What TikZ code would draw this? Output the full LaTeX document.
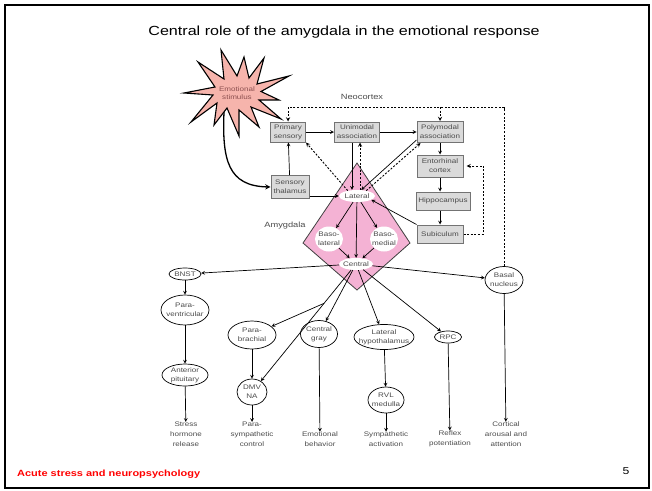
\documentclass[tikz,border=0pt]{standalone}
\usepackage{fontspec}
\setmainfont{Liberation Sans}[FakeStretch=1.22]
\usetikzlibrary{shapes.geometric}

\definecolor{amypink}{RGB}{244,178,212}
\definecolor{burstpink}{RGB}{246,180,172}
\definecolor{boxgray}{RGB}{218,218,218}
\definecolor{labelgray}{RGB}{75,75,75}
\definecolor{bursttext}{RGB}{140,80,80}

\begin{document}
\begin{tikzpicture}[
        x=1pt, y=-1pt,                % picture units follow the slide pixels
        >=stealth,
        every node/.style={
            font=\fontsize{6.6}{8.8}\selectfont,
            text=labelgray,
            align=center,
            inner sep=0pt
        },
        ctxbox/.style={rectangle, draw=gray!90!black, line width=1pt, fill=boxgray},
        outcell/.style={ellipse, draw=black, line width=0.7pt, fill=white, inner xsep=-5pt, inner ysep=-1pt},
        nucleus/.style={ellipse, fill=white, inner xsep=-5pt, inner ysep=-1pt},
        effect/.style={anchor=south, font=\fontsize{6.6}{10}\selectfont},
        caption/.style={font=\fontsize{7.6}{9}\selectfont},
        arrow/.style={->, line width=0.7pt},
        dotarrow/.style={->, line width=0.9pt, dash pattern=on 2pt off 1.6pt}
    ]
        \useasboundingbox (0,0) rectangle (652,490);
        \draw[line width=2pt] (5,5) rectangle (649,488);

        % titel und fusszeile
        \node (title) [font=\fontsize{13.2}{15}\selectfont, text=black] at (344,32)
            {Central role of the amygdala in the emotional response};
        \node (footer) [anchor=west, font=\fontsize{9}{11}\selectfont\bfseries, text=red] at (17,474)
            {Acute stress and neuropsychology};
        \node (pagenum) [font=\fontsize{10}{12}\selectfont, text=black] at (626,471) {5};

        % neokortex
        \node (neocortex) [caption] at (362,97) {Neocortex};
        \node (prim)  [ctxbox, minimum width=35pt, minimum height=20pt] at (288,132) {Primary\\sensory};
        \node (unim)  [ctxbox, minimum width=45pt, minimum height=20pt] at (357,132) {Unimodal\\association};
        \node (poly)  [ctxbox, minimum width=46pt, minimum height=21pt] at (440,132) {Polymodal\\association};
        \node (ento)  [ctxbox, minimum width=46pt, minimum height=22pt] at (440,166) {Entorhinal\\cortex};
        \node (hippo) [ctxbox, minimum width=54pt, minimum height=18pt] at (443,201) {Hippocampus};
        \node (subic) [ctxbox, minimum width=46pt, minimum height=18pt] at (440,234) {Subiculum};
        \node (sthal) [ctxbox, minimum width=38pt, minimum height=23pt] at (290,187) {Sensory\\thalamus};

        % amygdala
        \draw[fill=amypink, draw=black!75, line width=0.8pt]
            (357,163) -- (410,243) -- (357,290) -- (303,243) -- cycle;
        \node (amygdala) [caption] at (285,226) {Amygdala};
        \node (lat)     [nucleus, minimum width=36pt, minimum height=12pt] at (357,196) {Lateral};
        \node (bl)      [nucleus, minimum width=28pt, minimum height=25pt] at (329,239) {Baso-\\lateral};
        \node (bm)      [nucleus, minimum width=28pt, minimum height=25pt] at (384,239) {Baso-\\medial};
        \node (central) [nucleus, minimum width=34pt, minimum height=12pt] at (356,264) {Central};

        % ausgaenge
        \node (bnst)   [outcell, minimum width=32pt, minimum height=12pt] at (185,274) {BNST};
        \node (pvn)    [outcell, minimum width=48pt, minimum height=30pt] at (185,310) {Para-\\ventricular};
        \node (apit)   [outcell, minimum width=46pt, minimum height=22pt] at (185,375) {Anterior\\pituitary};
        \node (pbrach) [outcell, minimum width=48pt, minimum height=28pt] at (252,335) {Para-\\brachial};
        \node (dmv)    [outcell, minimum width=30pt, minimum height=26pt] at (252,392) {DMV\\NA};
        \node (cgray)  [outcell, minimum width=37pt, minimum height=27pt] at (319,334) {Central\\gray};
        \node (lhyp)   [outcell, minimum width=60pt, minimum height=25pt] at (384,337) {Lateral\\hypothalamus};
        \node (rvl)    [outcell, minimum width=36pt, minimum height=26pt] at (386,400) {RVL\\medulla};
        \node (rpc)    [outcell, minimum width=27pt, minimum height=12pt] at (448,337) {RPC};
        \node (basal)  [outcell, minimum width=38pt, minimum height=27pt] at (504,280) {Basal\\nucleus};

        % wirkungen
        \node (stress)   [effect] at (186,447) {Stress\\hormone\\release};
        \node (parasym)  [effect] at (252,447) {Para-\\sympathetic\\control};
        \node (emot)     [effect] at (320,447) {Emotional\\behavior};
        \node (symp)     [effect] at (386,447) {Sympathetic\\activation};
        \node (reflex)   [effect] at (450,447) {Reflex\\potentiation};
        \node (cortical) [effect] at (506,447) {Cortical\\arousal and\\attention};

        % reiz
        \coordinate (burstfoot) at (224,112);
        \draw[->, line width=1.3pt] (burstfoot) .. controls (222,160) and (228,186) .. (sthal.west);
        \draw[fill=burstpink, line width=1.1pt]
            (289,76) -- (261,91.5) -- (279,100) -- (259,100) -- (281,119) -- (251,107)
            -- (259,127) -- (239,110) -- (239,136) -- (227,108) -- (214,125) -- (217,103)
            -- (191,122) -- (213,95) -- (184,93) -- (215,87) -- (198,62) -- (224,79)
            -- (221,50) -- (237,76) -- (244,57) -- (249,78) -- (264,58) -- (257,84) -- cycle;
        \node (stimulus) [text=bursttext, font=\fontsize{6.6}{8}\selectfont] at (237,93) {Emotional\\stimulus};

        % kanten neokortex
        \draw[arrow] (prim) -- (unim);
        \draw[arrow] (unim) -- (poly);
        \draw[arrow] (sthal) -- (prim);
        \draw[arrow] (sthal.east |- lat.west) -- (lat.west);
        \draw[arrow] (poly) -- (ento);
        \draw[arrow] (ento.south) -- (ento.south |- hippo.north);
        \draw[arrow] (hippo.south -| subic) -- (subic.north);
        \draw[arrow] ([xshift=-5pt]unim.south) -- ([xshift=-5pt]unim.south |- lat.north);
        \draw[dotarrow] ([xshift=3pt]unim.south |- lat.north) -- ([xshift=3pt]unim.south);
        \draw[arrow] ([yshift=3pt]poly.south west) -- (lat.55);
        \draw[dotarrow] (lat.30) -- ([xshift=4pt]poly.south west);
        \draw[dotarrow] (lat.150) -- (prim.south east);
        \draw[arrow] (subic.north west) -- (lat.-15);
        \draw[dotarrow] (subic.east) -- ++(20,0) |- ([xshift=3pt]ento.east);
        \draw[dotarrow] (basal.north) |- ([yshift=14pt]prim.north) -- (prim.north);
        \draw[dotarrow] ([yshift=14pt]poly.north) -- (poly.north);

        % kanten amygdala
        \draw[arrow] (lat) -- (bl);
        \draw[arrow] (lat) -- (central);
        \draw[arrow] (lat) -- (bm);
        \draw[arrow] (bl) -- (central);
        \draw[arrow] (bm) -- (central);

        % kanten ausgaenge
        \draw[arrow] (central) -- (bnst);
        \draw[arrow] (central) -- (basal);
        \draw[arrow] (central) -- coordinate[pos=0.3] (fork) (dmv);
        \draw[arrow] (fork) -- (pbrach);
        \draw[arrow] (central) -- (cgray);
        \draw[arrow] (central) -- (lhyp);
        \draw[arrow] (central) -- (rpc);
        \draw[arrow] (bnst) -- (pvn);
        \draw[arrow] (pvn) -- (apit);
        \draw[arrow] (apit) -- (stress);
        \draw[arrow] (pbrach) -- (dmv);
        \draw[arrow] (dmv) -- (parasym);
        \draw[arrow] (cgray) -- (emot);
        \draw[arrow] (lhyp) -- (rvl);
        \draw[arrow] (rvl) -- (symp);
        \draw[arrow] (rpc) -- (reflex);
        \draw[arrow] (basal) -- (cortical);
    \end{tikzpicture}
\end{document}
